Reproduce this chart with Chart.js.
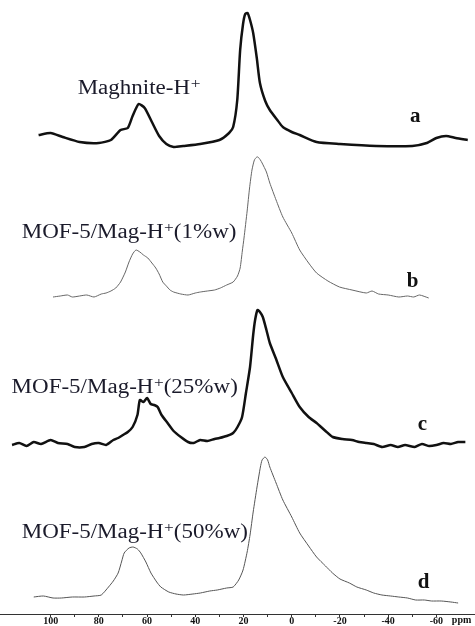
<!DOCTYPE html>
<html>
<head>
<meta charset="utf-8">
<script src="https://cdn.jsdelivr.net/npm/chart.js@4/dist/chart.umd.min.js"></script>
<style>
html, body { margin: 0; padding: 0; background: #fff; }
canvas { display: block; }
</style>
</head>
<body>
<canvas id="nmr" width="475" height="626"></canvas>
<script>
// chemical shift (ppm) and intensity
var ppmA = [105, 100, 95, 88, 80, 75, 71, 68, 66, 63.5, 61, 58, 55, 52, 49, 45, 38, 30, 26, 24.3, 22.6, 21.4, 20.2, 19.3, 18.3, 17.3, 16, 14.5, 13.2, 11, 9.1, 6, 3.7, 0, -3.3, -10.3, -20, -35, -50, -56, -60, -64, -68, -73];
var intA = [11, 13, 9, 4, 3, 6, 16, 18, 30, 42, 38, 24, 10, 2, -1, 0, 2, 6, 13, 19, 46, 96, 122, 132, 133, 126, 113, 88, 63, 45, 36, 26, 19, 14, 11, 4, 2, 0, 0, 3, 8, 10, 8, 6];

var ppmB = [99, 96, 93, 91, 88, 85, 82, 79, 77, 75, 73, 71, 69, 67.5, 66, 64.6, 63, 61.5, 59.7, 58, 56.4, 55, 53.5, 52, 50.5, 49, 46, 43, 40, 37.9, 35, 32, 29.6, 27, 24.3, 22.5, 21.4, 20.5, 19.8, 18.5, 17.5, 16.5, 15.5, 14.5, 14, 13, 12.3, 10.5, 9.1, 6.5, 3.7, 0, -3.3, -7, -10.3, -15, -19.8, -25, -30.9, -33.3, -36, -40, -44.4, -48, -50.6, -53, -56.8];
var intB = [-1, 0, 1, -1, 0, 1, -1, 2, 3, 5, 8, 14, 24, 34, 42, 46, 44, 41, 38, 33, 28, 22, 14, 10, 6, 4, 2, 1, 3, 4, 5, 6, 8, 11, 14, 20, 28, 45, 58, 85, 108, 126, 136, 139, 139, 136, 133, 124, 113, 96, 79, 63, 46, 33, 23, 15, 9, 6, 3, 5, 2, 1, -1, 0, -1, 1, -2];

var ppmC = [116, 113, 110, 107, 104, 100, 97, 93, 90, 86, 83, 80, 77, 74, 72, 70, 68, 66, 64, 63, 61.5, 60, 58.5, 57, 55.6, 54, 51.5, 49, 46, 43, 40.7, 38, 35, 32, 30, 27, 24.3, 22.5, 20.6, 19, 17.3, 16, 15.2, 14.2, 13.2, 12, 10.5, 9.1, 6.5, 3.7, 0, -3.3, -7, -10.3, -14, -17, -21, -25, -28, -31, -34, -37.5, -41, -44, -47, -51, -54, -57, -60, -63, -66, -69, -72];
var intC = [0, 2, -1, 3, 1, 5, 2, 1, -2, -2, 1, 2, 0, 5, 7, 10, 13, 18, 30, 45, 43, 47, 41, 40, 38, 30, 22, 14, 8, 3, 2, 5, 4, 6, 7, 9, 12, 18, 28, 52, 78, 110, 125, 135, 133, 128, 115, 102, 86, 68, 52, 38, 28, 22, 14, 8, 6, 5, 3, 2, 1, -2, 0, -2, 0, -2, 1, -1, 0, 2, 1, 3, 3];

var ppmD = [107, 103, 99, 95.5, 91, 86, 82, 79, 76, 74, 72, 70.5, 69.5, 67.5, 65.8, 64, 62.6, 60.5, 58.4, 56, 54.3, 51, 48, 44.9, 41, 37.9, 34, 30.9, 27, 24.3, 22, 20.2, 18.5, 17.3, 16, 14.4, 13, 12.3, 11.1, 10, 9.1, 6.5, 3.7, 0, -3.3, -7, -10.3, -14, -16.9, -20, -23.9, -27, -30.9, -34, -37.4, -41, -44.4, -48, -51.4, -55, -58, -62, -66, -69];
var intD = [0, 1, -1, -1, 0, 0, 1, 2, 10, 16, 24, 36, 44, 49, 50, 48, 44, 35, 24, 15, 10, 5, 3, 2, 3, 4, 6, 7, 9, 10, 17, 27, 45, 62, 85, 110, 130, 137, 140, 137, 130, 114, 97, 80, 64, 51, 40, 31, 24, 18, 14, 10, 7, 4, 2, 1, 0, -1, -3, -3, -4, -4, -5, -6];

// stacking offset of each trace above the axis
var baseLines = [468, 318, 169, 17];
var traceNames = ['a', 'b', 'c', 'd'];
var labelMain = ['Maghnite-H', 'MOF-5/Mag-H', 'MOF-5/Mag-H', 'MOF-5/Mag-H'];
var labelTail = ['', '(1%w)', '(25%w)', '(50%w)'];
var labelPpm = [88.8, 112, 116.2, 112];
var labelHeight = [520, 376, 221, 76];
var letterPpm = [-49, -47.7, -52.3, -52.3];
var letterHeight = [492, 327, 184, 26];

var ppmLists = [ppmA, ppmB, ppmC, ppmD];
var intLists = [intA, intB, intC, intD];
var lineColors = ['#111', '#666', '#111', '#555'];
var lineWidths = [2.5, 1, 2.5, 1];

var datasets = [];
for (var i = 0; i < 4; i++) {
    var pts = [];
    for (var j = 0; j < ppmLists[i].length; j++) {
        pts.push({x: ppmLists[i][j], y: baseLines[i] + intLists[i][j]});
    }
    datasets.push({
        label: traceNames[i],
        data: pts,
        borderColor: lineColors[i],
        borderWidth: lineWidths[i],
        pointRadius: 0,
        tension: 0.2,
        fill: false
    });
}

var textPlugin = {
    id: 'nmrText',
    afterDatasetsDraw: function(chart) {
        var ctx = chart.ctx;
        var xs = chart.scales.x, ys = chart.scales.y;
        ctx.save();
        ctx.textBaseline = 'alphabetic';
        for (var i = 0; i < 4; i++) {
            var px = xs.getPixelForValue(labelPpm[i]);
            var py = ys.getPixelForValue(labelHeight[i]);
            ctx.save();
            ctx.fillStyle = '#1a1a2a';
            ctx.translate(px, py);
            ctx.scale(1.15, 1);
            ctx.font = '20px "Liberation Serif"';
            ctx.fillText(labelMain[i], 0, 0);
            var w = ctx.measureText(labelMain[i]).width;
            ctx.font = '15px "Liberation Serif"';
            ctx.fillText('+', w + 0.5, -6);
            var w2 = ctx.measureText('+').width + 0.5;
            ctx.font = '20px "Liberation Serif"';
            ctx.fillText(labelTail[i], w + w2, 0);
            ctx.restore();

            ctx.font = 'bold 21px "Liberation Serif"';
            ctx.fillStyle = '#111';
            ctx.fillText(traceNames[i], xs.getPixelForValue(letterPpm[i]), ys.getPixelForValue(letterHeight[i]));
        }
        ctx.font = 'bold 10px "Liberation Serif"';
        ctx.fillStyle = '#111';
        ctx.textBaseline = 'middle';
        ctx.fillText('ppm', xs.getPixelForValue(-66.4), ys.bottom + 6.5);
        ctx.restore();
    }
};

new Chart(document.getElementById('nmr'), {
    type: 'line',
    data: {datasets: datasets},
    options: {
        responsive: false,
        animation: false,
        layout: {padding: {bottom: 0}},
        plugins: {legend: {display: false}, tooltip: {enabled: false}},
        scales: {
            x: {
                type: 'linear',
                reverse: true,
                min: -76,
                max: 121,
                grid: {drawOnChartArea: false, tickLength: 3, color: '#333'},
                border: {color: '#333', width: 1, dash: [2, 1]},
                ticks: {
                    stepSize: 10,
                    includeBounds: false,
                    maxRotation: 0,
                    autoSkip: false,
                    padding: 0,
                    color: '#111',
                    font: {family: '"Liberation Serif"', size: 10, weight: 'bold', lineHeight: 0.9},
                    callback: function(v) {
                        if (v > 100 || v < -65) return null;
                        return v % 20 === 0 ? String(v) : '';
                    }
                }
            },
            y: {display: false, min: 0, max: 614}
        }
    },
    plugins: [textPlugin]
});
</script>
</body>
</html>
